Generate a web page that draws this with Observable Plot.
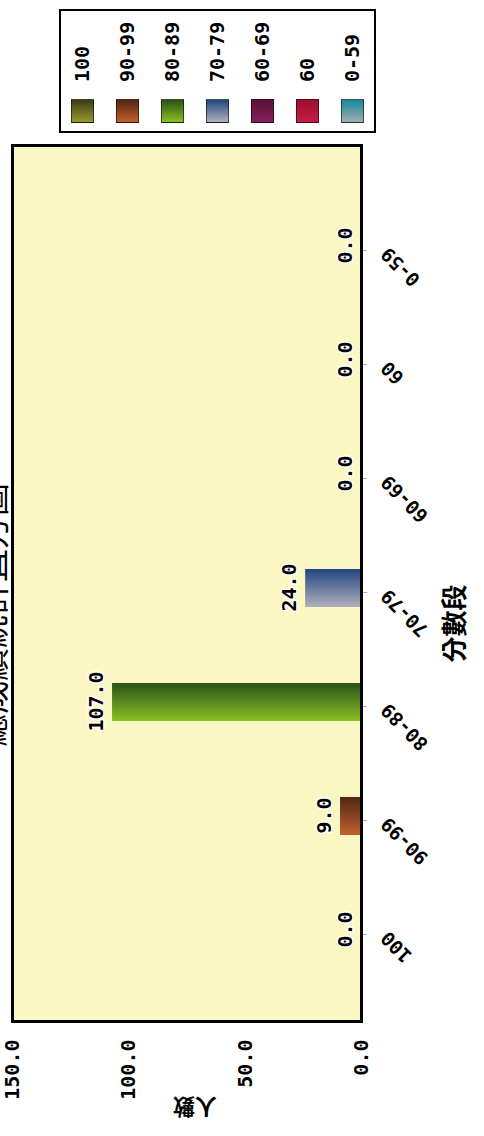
<!DOCTYPE html>
<html>
<head>
<meta charset="utf-8">
<script src="https://cdn.jsdelivr.net/npm/d3@7"></script>
<script src="https://cdn.jsdelivr.net/npm/@observablehq/plot@0.6"></script>
<style>
html, body { margin:0; padding:0; overflow:hidden; background:#fff; width:484px; height:1136px; }
#rot { position:absolute; left:0; top:0; width:1136px; height:484px; transform-origin:0 0; transform:translate(0,1136px) rotate(-90deg); }
#title { position:absolute; top:-25px; left:0; width:1042px; text-align:center; font-family:"Noto Sans CJK TC", sans-serif; font-size:33px; line-height:33px; color:#000; white-space:nowrap; }
#legend { position:absolute; left:1003px; top:59px; width:120px; height:313px; border:2px solid #000; background:#fff; }
.sw { position:absolute; left:8px; width:22px; height:21px; border:1px solid rgba(0,0,0,0.55); }
.lb { position:absolute; left:49px; height:22px; line-height:22px; font-family:"DejaVu Sans Mono", monospace; font-weight:bold; font-size:20px; color:#000; white-space:nowrap; }
#chart { position:absolute; left:0; top:0; }
</style>
</head>
<body>
<div id="rot">
  <div id="chart"></div>
  <div id="title"></div>
  <div id="legend"></div>
</div>
<script>
const titleText = "總成績統計直方圖";
const xLabel = "分數段";
const yLabel = "人數";
const categories = ["100", "90-99", "80-89", "70-79", "60-69", "60", "0-59"];
const counts = [0, 9, 107, 24, 0, 0, 0];
const lightColors = ["#9a9a2c", "#c4602a", "#8cc024", "#b0b0bc", "#84205a", "#c81c44", "#a4acb0"];
const darkColors  = ["#3a3a16", "#4e2616", "#285218", "#22467e", "#5a1036", "#9a1030", "#168a9a"];
const yTicks = [0, 50, 100, 150];

const data = categories.map((c, i) => ({cat: c, value: counts[i], idx: i}));

const plot = Plot.plot({
  width: 1136,
  height: 484,
  marginLeft: 114,
  marginRight: 146,
  marginTop: 12,
  marginBottom: 123,
  style: {fontFamily: '"DejaVu Sans Mono", monospace', fontSize: "20px", background: "transparent", color: "#000", overflow: "visible"},
  x: {type: "band", domain: categories, paddingInner: 0.67, paddingOuter: 0.65, align: 0.47, label: null},
  y: {domain: [0, 150], label: null},
  color: {type: "identity"},
  marks: [
    Plot.frame({fill: "#fbf7c3"}),
    Plot.barY(data, {x: "cat", y: "value", fill: d => `url(#grad${d.idx})`}),
    Plot.text(data, {x: "cat", y: "value", text: d => d.value.toFixed(1), dy: -16, lineAnchor: "middle", fontSize: 20, fontWeight: "bold", fill: "#000", stroke: "#fff", strokeWidth: 3, paintOrder: "stroke"}),
    Plot.axisY({ticks: yTicks, tickFormat: d => d.toFixed(1), tickSize: 0, tickPadding: 18, fontSize: 20, fontWeight: "bold", label: null}),
    Plot.axisX({tickRotate: -45, tickSize: 6, tickPadding: 17, dx: -5, fontSize: 19, fontWeight: "bold", stroke: "#aab", fill: "#000", label: null}),
    Plot.text([yLabel], {frameAnchor: "left", textAnchor: "middle", lineAnchor: "middle", dx: -85, dy: 8, rotate: -90, fontSize: 22, fontWeight: "bold", fontFamily: '"Noto Sans CJK TC", sans-serif', fill: "#000"}),
    Plot.text([xLabel], {frameAnchor: "bottom", textAnchor: "middle", lineAnchor: "middle", dx: -40, dy: 94, fontSize: 26, fontWeight: "bold", fontFamily: '"Noto Sans CJK TC", sans-serif', fill: "#000"}),
    Plot.frame({stroke: "#000", strokeWidth: 3})
  ]
});

const svgEl = plot.tagName.toLowerCase() === "svg" ? plot : plot.querySelector("svg");
const svg = d3.select(svgEl);
const defs = svg.insert("defs", ":first-child");
categories.forEach((c, i) => {
  const g = defs.append("linearGradient").attr("id", "grad" + i)
    .attr("x1", 0).attr("x2", 1).attr("y1", 0).attr("y2", 0);
  g.append("stop").attr("offset", "0%").attr("stop-color", lightColors[i]);
  g.append("stop").attr("offset", "100%").attr("stop-color", darkColors[i]);
});
document.getElementById("chart").appendChild(plot);

document.getElementById("title").textContent = titleText;

const legend = d3.select("#legend");
categories.forEach((c, i) => {
  const cy = 21 + 45 * i;
  legend.append("div").attr("class", "sw")
    .style("top", (cy - 11) + "px")
    .style("background", `linear-gradient(to right, ${lightColors[i]}, ${darkColors[i]})`);
  legend.append("div").attr("class", "lb")
    .style("top", (cy - 11) + "px")
    .text(c);
});
</script>
</body>
</html>
